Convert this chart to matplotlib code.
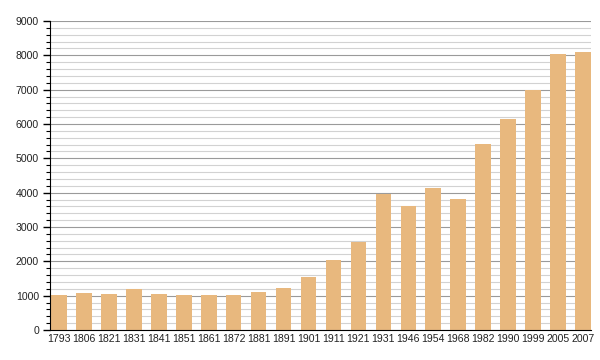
import matplotlib
matplotlib.use("Agg")
from matplotlib import pyplot as plt
from matplotlib.ticker import MultipleLocator

years = ["1793", "1806", "1821", "1831", "1841", "1851", "1861", "1872", "1881", "1891",
         "1901", "1911", "1921", "1931", "1946", "1954", "1968", "1982", "1990", "1999",
         "2005", "2007"]
population = [1030, 1090, 1060, 1200, 1060, 1030, 1030, 1030, 1120, 1235,
              1530, 2030, 2560, 3960, 3620, 4150, 3830, 5430, 6150, 7000,
              8030, 8090]

plt.rcParams['font.family'] = ['Liberation Sans', 'DejaVu Sans']

fig = plt.figure(figsize=(6, 3.6), dpi=100)
ax = fig.add_axes([50 / 600, 30 / 360, 541 / 600, 309 / 360])

x = range(len(years))
ax.bar(x, population, width=0.62, color='#e8b87e', zorder=3)

ax.set_xlim(-0.37, len(years) - 1 + 0.33)
ax.set_ylim(0, 9000)
ax.yaxis.set_major_locator(MultipleLocator(1000))
ax.yaxis.set_minor_locator(MultipleLocator(200))
ax.grid(which='major', axis='y', color='#9a9a9a', linewidth=0.8, zorder=1)
ax.grid(which='minor', axis='y', color='#d2d2d2', linewidth=0.8, zorder=1)

ax.set_xticks(list(x))
ax.set_xticklabels(years)
ax.tick_params(axis='x', length=0, labelsize=7.6, pad=3, labelcolor='#222222')
ax.tick_params(axis='y', which='major', length=5, width=1, labelsize=7.6, pad=3,
               labelcolor='#222222')
ax.tick_params(axis='y', which='minor', length=3, width=0.8)

for side in ['top', 'right']:
    ax.spines[side].set_visible(False)
ax.spines['left'].set_color('black')
ax.spines['bottom'].set_color('black')
ax.spines['left'].set_zorder(4)
ax.spines['bottom'].set_zorder(4)

fig.savefig("out.png", dpi=100)
